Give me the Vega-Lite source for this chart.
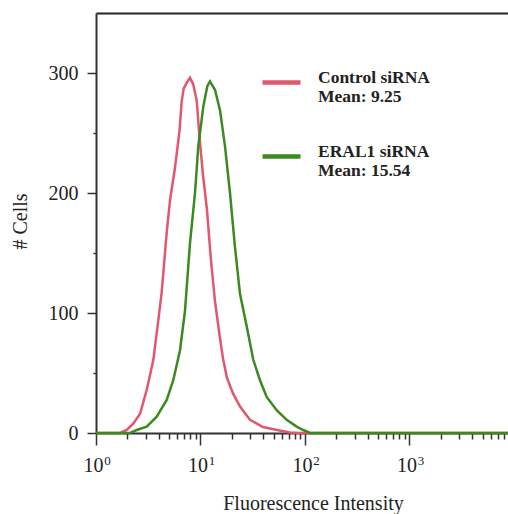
{
  "$schema": "https://vega.github.io/schema/vega-lite/v6.json",
  "width": 412,
  "height": 420,
  "autosize": {"type": "none"},
  "padding": {"left": 96, "top": 13, "right": 0, "bottom": 81},
  "background": "white",
  "config": {
    "view": {"stroke": null},
    "font": "Liberation Serif",
    "axis": {"grid": false}
  },
  "data": {
    "values": [
      {"series": "Control siRNA", "fl": 1, "cells": 0},
      {"series": "Control siRNA", "fl": 1.7, "cells": 0},
      {"series": "Control siRNA", "fl": 1.97, "cells": 2.5},
      {"series": "Control siRNA", "fl": 2.28, "cells": 8},
      {"series": "Control siRNA", "fl": 2.64, "cells": 16},
      {"series": "Control siRNA", "fl": 3.06, "cells": 36},
      {"series": "Control siRNA", "fl": 3.54, "cells": 61},
      {"series": "Control siRNA", "fl": 3.95, "cells": 94},
      {"series": "Control siRNA", "fl": 4.25, "cells": 117},
      {"series": "Control siRNA", "fl": 4.75, "cells": 167},
      {"series": "Control siRNA", "fl": 5.11, "cells": 194},
      {"series": "Control siRNA", "fl": 5.7, "cells": 221},
      {"series": "Control siRNA", "fl": 6.3, "cells": 252},
      {"series": "Control siRNA", "fl": 6.6, "cells": 276},
      {"series": "Control siRNA", "fl": 6.9, "cells": 287},
      {"series": "Control siRNA", "fl": 7.4, "cells": 292},
      {"series": "Control siRNA", "fl": 7.93, "cells": 296},
      {"series": "Control siRNA", "fl": 8.5, "cells": 291},
      {"series": "Control siRNA", "fl": 9.2, "cells": 277},
      {"series": "Control siRNA", "fl": 9.78, "cells": 247},
      {"series": "Control siRNA", "fl": 10.57, "cells": 215},
      {"series": "Control siRNA", "fl": 11.54, "cells": 186},
      {"series": "Control siRNA", "fl": 12.6, "cells": 144},
      {"series": "Control siRNA", "fl": 13.76, "cells": 110},
      {"series": "Control siRNA", "fl": 15.03, "cells": 85},
      {"series": "Control siRNA", "fl": 16.42, "cells": 62},
      {"series": "Control siRNA", "fl": 17.93, "cells": 46},
      {"series": "Control siRNA", "fl": 20.47, "cells": 33},
      {"series": "Control siRNA", "fl": 23.88, "cells": 22},
      {"series": "Control siRNA", "fl": 29.76, "cells": 11},
      {"series": "Control siRNA", "fl": 39.6, "cells": 5},
      {"series": "Control siRNA", "fl": 54, "cells": 2.5},
      {"series": "Control siRNA", "fl": 71.9, "cells": 0.5},
      {"series": "Control siRNA", "fl": 89.6, "cells": 0},
      {"series": "Control siRNA", "fl": 8770, "cells": 0},
      {"series": "ERAL1 siRNA", "fl": 1, "cells": 0},
      {"series": "ERAL1 siRNA", "fl": 2.12, "cells": 0},
      {"series": "ERAL1 siRNA", "fl": 2.45, "cells": 2.5},
      {"series": "ERAL1 siRNA", "fl": 3.06, "cells": 5.3},
      {"series": "ERAL1 siRNA", "fl": 3.81, "cells": 13.6},
      {"series": "ERAL1 siRNA", "fl": 4.75, "cells": 27.5},
      {"series": "ERAL1 siRNA", "fl": 5.49, "cells": 44},
      {"series": "ERAL1 siRNA", "fl": 6.37, "cells": 69},
      {"series": "ERAL1 siRNA", "fl": 7.11, "cells": 102},
      {"series": "ERAL1 siRNA", "fl": 7.93, "cells": 158},
      {"series": "ERAL1 siRNA", "fl": 8.86, "cells": 200},
      {"series": "ERAL1 siRNA", "fl": 9.53, "cells": 239},
      {"series": "ERAL1 siRNA", "fl": 10.64, "cells": 272},
      {"series": "ERAL1 siRNA", "fl": 11.62, "cells": 289},
      {"series": "ERAL1 siRNA", "fl": 12.33, "cells": 293},
      {"series": "ERAL1 siRNA", "fl": 13.76, "cells": 286},
      {"series": "ERAL1 siRNA", "fl": 15.37, "cells": 269},
      {"series": "ERAL1 siRNA", "fl": 17.16, "cells": 239},
      {"series": "ERAL1 siRNA", "fl": 19.16, "cells": 200},
      {"series": "ERAL1 siRNA", "fl": 21.38, "cells": 155},
      {"series": "ERAL1 siRNA", "fl": 23.88, "cells": 116},
      {"series": "ERAL1 siRNA", "fl": 27.68, "cells": 89},
      {"series": "ERAL1 siRNA", "fl": 32.0, "cells": 61},
      {"series": "ERAL1 siRNA", "fl": 37.1, "cells": 44},
      {"series": "ERAL1 siRNA", "fl": 43.0, "cells": 30},
      {"series": "ERAL1 siRNA", "fl": 53.6, "cells": 19},
      {"series": "ERAL1 siRNA", "fl": 66.8, "cells": 11},
      {"series": "ERAL1 siRNA", "fl": 83.3, "cells": 5.3},
      {"series": "ERAL1 siRNA", "fl": 96.3, "cells": 2.5},
      {"series": "ERAL1 siRNA", "fl": 111.6, "cells": 0},
      {"series": "ERAL1 siRNA", "fl": 8770, "cells": 0}
    ]
  },
  "layer": [
    {
      "mark": {"type": "line", "strokeWidth": 2.5},
      "encoding": {
        "x": {
          "field": "fl",
          "type": "quantitative",
          "scale": {"type": "log", "domain": [1, 8770], "nice": false},
          "axis": {
            "orient": "bottom",
            "values": [1,2,3,4,5,6,7,8,9,10,20,30,40,50,60,70,80,90,100,200,300,400,500,600,700,800,900,1000,2000,3000,4000,5000,6000,7000,8000],
            "labelExpr": "datum.value == 1 || datum.value == 10 || datum.value == 100 || datum.value == 1000 ? '10' : ''",
            "tickSize": {"condition": {"test": "datum.value == 1 || datum.value == 10 || datum.value == 100 || datum.value == 1000", "value": 12}, "value": 6},
            "tickColor": "#333",
            "tickWidth": 1.5,
            "domainColor": "#333",
            "domainWidth": 2,
            "labelFont": "Liberation Serif",
            "labelFontSize": 20,
            "labelColor": "#222",
            "labelPadding": 10.5,
            "labelOffset": -3,
            "labelFlush": false,
            "labelOverlap": false,
            "title": "Fluorescence Intensity",
            "titleFont": "Liberation Serif",
            "titleFontSize": 20,
            "titleFontWeight": "normal",
            "titleColor": "#222",
            "titleX": 217,
            "titleY": 76,
            "titleBaseline": "alphabetic"
          }
        },
        "y": {
          "field": "cells",
          "type": "quantitative",
          "scale": {"domain": [0, 350], "nice": false},
          "axis": {
            "values": [0,25,50,75,100,125,150,175,200,225,250,275,300,325],
            "labelExpr": "datum.value % 100 === 0 ? datum.label : ''",
            "tickSize": {"condition": {"test": "datum.value % 100 === 0", "value": 9}, "value": 3},
            "tickColor": "#333",
            "tickWidth": 1.5,
            "domainColor": "#333",
            "domainWidth": 2,
            "labelFont": "Liberation Serif",
            "labelFontSize": 20,
            "labelColor": "#222",
            "labelPadding": 9,
            "labelOverlap": false,
            "title": "# Cells",
            "titleFont": "Liberation Serif",
            "titleFontSize": 20,
            "titleFontWeight": "normal",
            "titleColor": "#222",
            "titleX": -76,
            "titleY": 208,
            "titleAngle": -90,
            "titleAlign": "center",
            "titleBaseline": "middle"
          }
        },
        "color": {
          "field": "series",
          "type": "nominal",
          "scale": {"domain": ["Control siRNA", "ERAL1 siRNA"], "range": ["#e2566e", "#3b8a1f"]},
          "legend": {
            "title": null,
            "orient": "none",
            "legendX": 164,
            "legendY": 48,
            "padding": 0,
            "symbolType": "stroke",
            "symbolSize": 1444,
            "symbolStrokeWidth": 4.5,
            "labelFont": "Liberation Serif",
            "labelFontSize": 17.5,
            "labelFontWeight": "bold",
            "labelColor": "#222",
            "labelOffset": 15,
            "labelBaseline": "alphabetic",
            "labelLineHeight": 20,
            "labelLimit": 0,
            "rowPadding": 29,
            "labelExpr": "datum.label == 'Control siRNA' ? ['Control siRNA', 'Mean: 9.25'] : ['ERAL1 siRNA', 'Mean: 15.54']"
          }
        }
      }
    },
    {
      "mark": {"type": "line", "opacity": 0},
      "encoding": {
        "x": {
          "field": "fl",
          "type": "quantitative",
          "axis": {"orient": "top", "ticks": false, "labels": false, "title": null, "domainColor": "#222", "domainWidth": 2}
        },
        "y": {"field": "cells", "type": "quantitative"},
        "detail": {"field": "series"}
      }
    },
    {
      "mark": {"type": "line", "opacity": 0},
      "encoding": {
        "x": {
          "field": "fl",
          "type": "quantitative",
          "axis": {
            "orient": "bottom",
            "values": [1, 10, 100, 1000],
            "labelExpr": "datum.value == 1 ? '0' : datum.value == 10 ? '1' : datum.value == 100 ? '2' : '3'",
            "ticks": false,
            "tickSize": 0,
            "domain": false,
            "labelFont": "Liberation Serif",
            "labelFontSize": 13,
            "labelColor": "#222",
            "labelPadding": 21,
            "labelOffset": 11,
            "labelFlush": false,
            "labelOverlap": false,
            "title": null
          }
        },
        "y": {"field": "cells", "type": "quantitative"},
        "detail": {"field": "series"}
      }
    }
  ],
  "resolve": {"axis": {"x": "independent"}}
}
